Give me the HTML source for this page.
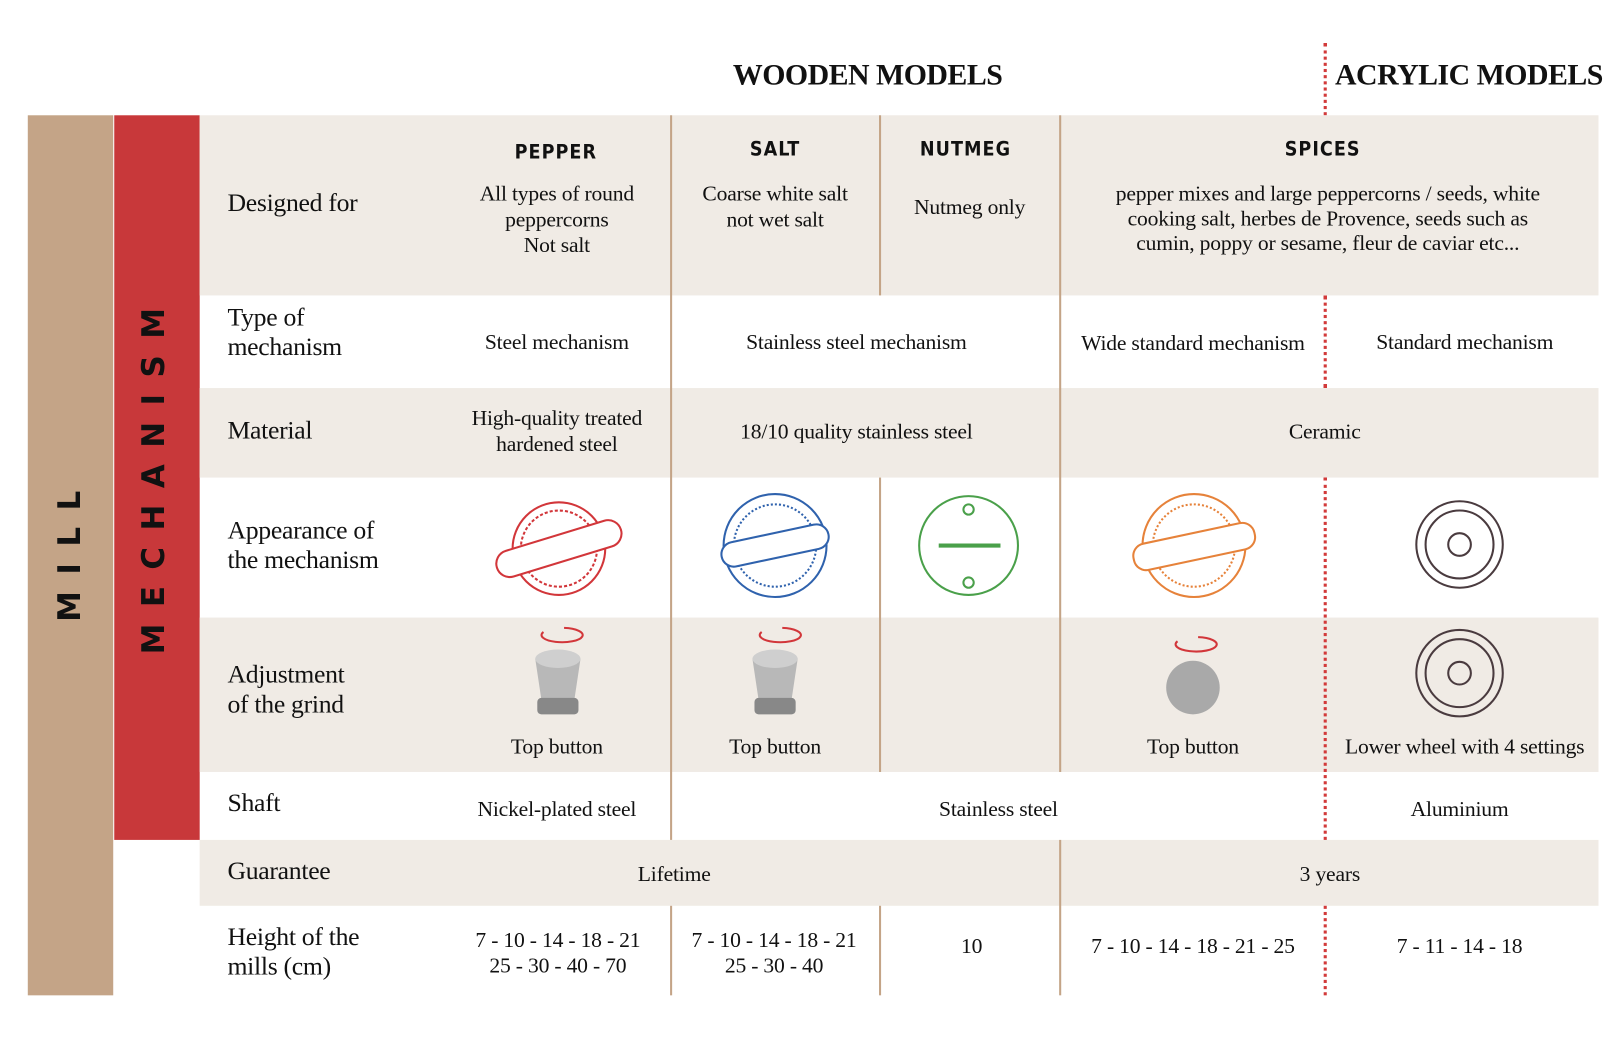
<!DOCTYPE html>
<html><head><meta charset="utf-8"><style>
body{margin:0;width:1614px;height:1062px;overflow:hidden;background:#fff;}
#w{position:absolute;left:0;top:0;width:1568px;height:1032px;transform:scale(1.0293);transform-origin:0 0;font-family:"Liberation Serif",serif;color:#111;}
.a{position:absolute;}
.bg{position:absolute;left:194px;width:1359px;background:#f0ebe5;}
.v{position:absolute;width:2px;background:#c4a487;}
.d{position:absolute;left:1286px;width:0;border-left:3px dotted #d23a3a;}
.l{position:absolute;left:221px;font-size:25px;line-height:29px;letter-spacing:-0.3px;}
.t{position:absolute;font-size:21px;line-height:25px;text-align:center;transform:translateX(-50%);white-space:nowrap;letter-spacing:-0.2px;}
.h{position:absolute;font-family:"DejaVu Sans Condensed","Liberation Sans",sans-serif;font-weight:bold;font-size:19px;letter-spacing:1px;transform:translateX(-50%);}
.vt{position:absolute;font-family:"DejaVu Sans","Liberation Sans",sans-serif;font-weight:900;font-size:30px;letter-spacing:16px;transform:rotate(-90deg);transform-origin:center;white-space:nowrap;color:#111;}
</style></head><body><div id="w">
<div class="a" style="left:712px;top:57px;font-size:29px;letter-spacing:-0.5px;font-weight:bold;font-stretch:condensed;">WOODEN MODELS</div>
<div class="a" style="left:1297px;top:57px;font-size:29px;letter-spacing:-0.5px;font-weight:bold;">ACRYLIC MODELS</div>
<div class="d" style="top:42px;height:70px;"></div>

<div class="a" style="left:27px;top:112px;width:83px;height:855px;background:#c4a487;"></div>
<div class="a" style="left:111px;top:112px;width:83px;height:704px;background:#c8383a;"></div>
<div class="vt" style="left:-12px;top:515px;width:160px;text-align:center;">MILL</div>
<div class="vt" style="left:-30px;top:442px;width:360px;text-align:center;">MECHANISM</div>

<div class="bg" style="top:112px;height:175px;"></div>
<div class="bg" style="top:377px;height:87px;"></div>
<div class="bg" style="top:600px;height:150px;"></div>
<div class="bg" style="top:816px;height:64px;"></div>

<div class="v" style="left:651px;top:112px;height:704px;"></div>
<div class="v" style="left:651px;top:880px;height:87px;"></div>
<div class="v" style="left:854px;top:112px;height:175px;"></div>
<div class="v" style="left:854px;top:464px;height:286px;"></div>
<div class="v" style="left:854px;top:880px;height:87px;"></div>
<div class="v" style="left:1029px;top:112px;height:638px;"></div>
<div class="v" style="left:1029px;top:816px;height:151px;"></div>
<div class="d" style="top:287px;height:90px;"></div>
<div class="d" style="top:464px;height:352px;"></div>
<div class="d" style="top:880px;height:87px;"></div>

<div class="h" style="left:540px;top:137px;">PEPPER</div>
<div class="h" style="left:753px;top:134px;">SALT</div>
<div class="h" style="left:938px;top:134px;">NUTMEG</div>
<div class="h" style="left:1285px;top:134px;">SPICES</div>

<div class="l" style="top:183px;">Designed for</div>
<div class="t" style="left:541px;top:176px;">All types of round<br>peppercorns<br>Not salt</div>
<div class="t" style="left:753px;top:176px;">Coarse white salt<br>not wet salt</div>
<div class="t" style="left:942px;top:189px;">Nutmeg only</div>
<div class="t" style="left:1290px;top:176px;line-height:24px;">pepper mixes and large peppercorns / seeds, white<br>cooking salt, herbes de Provence, seeds such as<br>cumin, poppy or sesame, fleur de caviar etc...</div>

<div class="l" style="top:294px;">Type of<br>mechanism</div>
<div class="t" style="left:541px;top:320px;">Steel mechanism</div>
<div class="t" style="left:832px;top:320px;">Stainless steel mechanism</div>
<div class="t" style="left:1159px;top:321px;">Wide standard mechanism</div>
<div class="t" style="left:1423px;top:320px;">Standard mechanism</div>

<div class="l" style="top:404px;">Material</div>
<div class="t" style="left:541px;top:394px;">High-quality treated<br>hardened steel</div>
<div class="t" style="left:832px;top:407px;">18/10 quality stainless steel</div>
<div class="t" style="left:1287px;top:407px;">Ceramic</div>

<div class="l" style="top:501px;">Appearance of<br>the mechanism</div>
<svg class="a" style="left:0;top:0" width="1568" height="1032">
 <g fill="none" stroke-width="2">
  <circle cx="543" cy="533" r="45" stroke="#d2363a"/><circle cx="543" cy="533" r="37" stroke="#d2363a" stroke-dasharray="3 2"/>
  <rect x="480" y="520" width="126" height="26" rx="13" transform="rotate(-17 543 533)" fill="#fff" stroke="#d2363a"/>
  <circle cx="753" cy="530" r="50" stroke="#2f62ad"/><circle cx="753" cy="530" r="40" stroke="#2f62ad" stroke-dasharray="2 2"/>
  <rect x="700" y="518" width="106" height="24" rx="12" transform="rotate(-12 753 530)" fill="#fff" stroke="#2f62ad"/>
  <circle cx="941" cy="530" r="48" stroke="#4aa04a"/>
  <line x1="912" y1="530" x2="972" y2="530" stroke="#4aa04a" stroke-width="4"/>
  <circle cx="941" cy="495" r="5" stroke="#4aa04a"/><circle cx="941" cy="566" r="5" stroke="#4aa04a"/>
  <circle cx="1160" cy="530" r="50" stroke="#e6823a"/><circle cx="1160" cy="530" r="40" stroke="#e6823a" stroke-dasharray="2 2"/>
  <rect x="1100" y="518" width="120" height="26" rx="12" transform="rotate(-12 1160 530)" fill="#fff" stroke="#e6823a"/>
  <circle cx="1418" cy="529" r="42" stroke="#4a3b3f"/><circle cx="1418" cy="529" r="33" stroke="#4a3b3f"/><circle cx="1418" cy="529" r="11" stroke="#4a3b3f"/>
  <circle cx="1418" cy="654" r="42" stroke="#4a3b3f"/><circle cx="1418" cy="654" r="33" stroke="#4a3b3f"/><circle cx="1418" cy="654" r="11" stroke="#4a3b3f"/>
  <path d="M548 610 a20 7 0 1 1 -20 4" stroke="#d2363a"/><path d="M760 610 a20 7 0 1 1 -20 4" stroke="#d2363a"/><path d="M1164 619 a20 7 0 1 1 -20 4" stroke="#d2363a"/>
 </g>
 <g fill="#b8b8b8">
  <path d="M520 640 h44 l-6 40 h-32 z"/><ellipse cx="542" cy="640" rx="22" ry="9" fill="#cfcfcf"/><rect x="522" y="678" width="40" height="16" rx="4" fill="#888"/>
  <path d="M731 640 h44 l-6 40 h-32 z"/><ellipse cx="753" cy="640" rx="22" ry="9" fill="#cfcfcf"/><rect x="733" y="678" width="40" height="16" rx="4" fill="#888"/>
  <circle cx="1159" cy="668" r="26" fill="#a9a9a9"/>
 </g>
</svg>

<div class="l" style="top:641px;">Adjustment<br>of the grind</div>
<div class="t" style="left:541px;top:713px;">Top button</div>
<div class="t" style="left:753px;top:713px;">Top button</div>
<div class="t" style="left:1159px;top:713px;">Top button</div>
<div class="t" style="left:1423px;top:713px;">Lower wheel with 4 settings</div>

<div class="l" style="top:766px;">Shaft</div>
<div class="t" style="left:541px;top:774px;">Nickel-plated steel</div>
<div class="t" style="left:970px;top:774px;">Stainless steel</div>
<div class="t" style="left:1418px;top:774px;">Aluminium</div>

<div class="l" style="top:832px;">Guarantee</div>
<div class="t" style="left:655px;top:837px;">Lifetime</div>
<div class="t" style="left:1292px;top:837px;">3 years</div>

<div class="l" style="top:896px;">Height of the<br>mills (cm)</div>
<div class="t" style="left:542px;top:901px;">7 - 10 - 14 - 18 - 21<br>25 - 30 - 40 - 70</div>
<div class="t" style="left:752px;top:901px;">7 - 10 - 14 - 18 - 21<br>25 - 30 - 40</div>
<div class="t" style="left:944px;top:907px;">10</div>
<div class="t" style="left:1159px;top:907px;">7 - 10 - 14 - 18 - 21 - 25</div>
<div class="t" style="left:1418px;top:907px;">7 - 11 - 14 - 18</div>
</div></body></html>
